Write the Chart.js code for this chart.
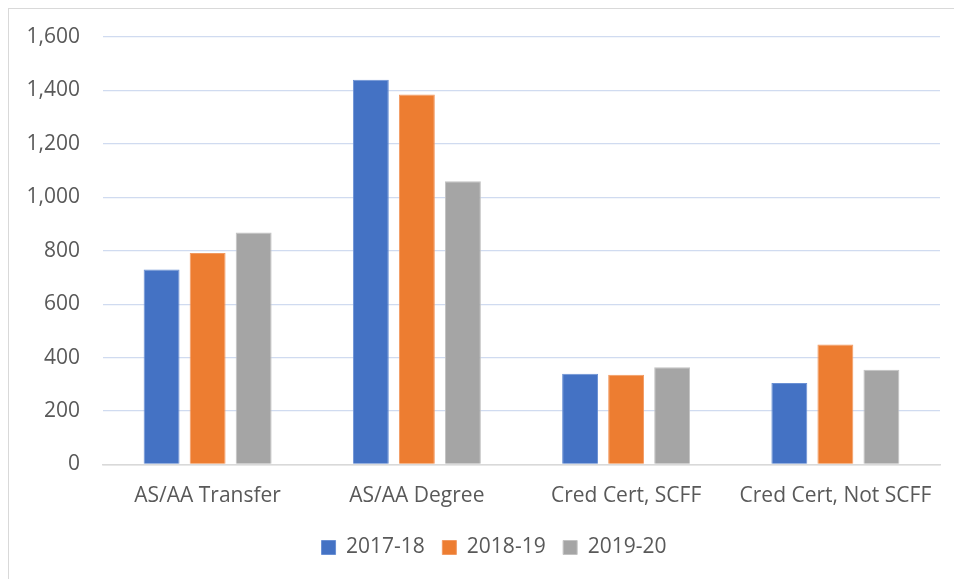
<!DOCTYPE html>
<html>
<head>
<meta charset="utf-8">
<title>Chart</title>
<script src="https://cdn.jsdelivr.net/npm/chart.js@4.4.0/dist/chart.umd.min.js"></script>
<style>
  html, body { margin: 0; padding: 0; background: #fff; overflow: hidden; }
  #marco { position: absolute; left: 8px; top: 8px; width: 970px; height: 600px; border: 1px solid #d9d9d9; }
</style>
</head>
<body>
<div id="marco"><canvas id="grafico" width="970" height="600"></canvas></div>
<script>
var categorias = ['AS/AA Transfer', 'AS/AA Degree', 'Cred Cert, SCFF', 'Cred Cert, Not SCFF'];
var anios = ['2017-18', '2018-19', '2019-20'];
var valores1718 = [730, 1440, 340, 305];
var valores1819 = [792, 1385, 336, 449];
var valores1920 = [868, 1060, 364, 355];
var ticksY = [0, 200, 400, 600, 800, 1000, 1200, 1400, 1600];

var colores = ['#4472C4', '#ED7D31', '#A5A5A5'];
var bordes = ['#6a90d4', '#f29a62', '#c2c2c2'];
var fuente = "'Open Sans', sans-serif";

var series = [valores1718, valores1819, valores1920];
var datasets = [];
for (var i in series) {
  datasets.push({
    label: anios[i],
    data: series[i],
    backgroundColor: colores[i],
    borderColor: bordes[i],
    borderWidth: 1,
    categoryPercentage: 0.66,
    barPercentage: 0.78
  });
}

// la leyenda va centrada en todo el marco, no en el area sin el padding derecho
var moverLeyenda = {
  id: 'moverLeyenda',
  afterLayout: function(chart) {
    chart.legend.left += 19.5;
    chart.legend.right += 19.5;
  }
};

var ctx = document.getElementById('grafico');
var grafico = new Chart(ctx, {
  type: 'bar',
  data: { labels: categorias, datasets: datasets },
  plugins: [moverLeyenda],
  options: {
    responsive: false,
    animation: false,
    layout: { padding: { left: 0, right: 39, top: 28, bottom: 41 } },
    plugins: {
      tooltip: { enabled: false },
      legend: {
        position: 'bottom',
        labels: {
          boxWidth: 14,
          boxHeight: 14,
          padding: 17.5,
          color: '#595959',
          font: { family: fuente, size: 21 }
        }
      }
    },
    scales: {
      x: {
        grid: { display: false },
        border: { display: true, color: '#d9d9d9', width: 1.5 },
        ticks: { color: '#595959', padding: 11, font: { family: fuente, size: 21 } },
        afterFit: function(scale) { scale.height = 55; }
      },
      y: {
        min: 0,
        max: 1600,
        border: { display: false },
        grid: {
          drawTicks: false,
          lineWidth: 1.3,
          color: function(c) { return c.tick && c.tick.value === 0 ? '#d9d9d9' : '#d0dbf0'; }
        },
        afterBuildTicks: function(scale) {
          scale.ticks = ticksY.map(function(v) { return { value: v }; });
        },
        ticks: {
          color: '#595959',
          padding: 23,
          font: { family: fuente, size: 21 },
          callback: function(v) { return v.toLocaleString('en-US'); }
        },
        afterFit: function(scale) {
          scale.width = 94;
          scale.paddingTop = 0;
          scale.paddingBottom = 0;
        }
      }
    }
  }
});
</script>
</body>
</html>
